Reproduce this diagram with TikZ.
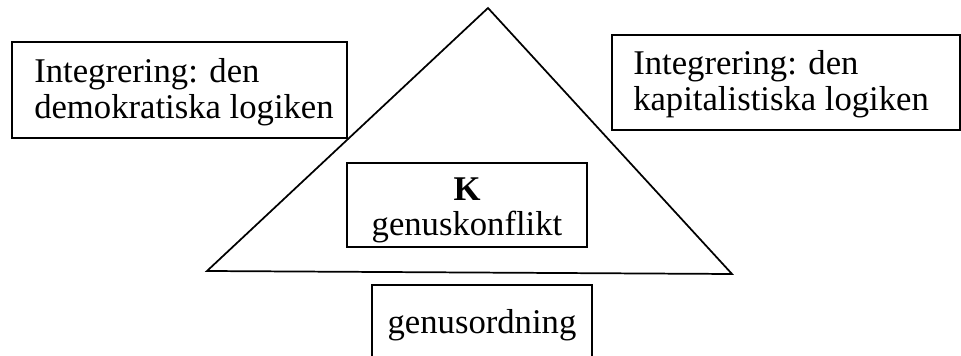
\documentclass[tikz,border=0pt]{standalone}
\usepackage{fontspec}
\setmainfont{Liberation Serif}
\begin{document}
\begin{tikzpicture}[x=0.75pt, y=-0.75pt,
  box/.style={draw=black, line width=1.5pt, fill=white, inner sep=0pt},
  lbl/.style={inner sep=0pt, font=\fontsize{26}{27}\selectfont},
  tri/.style={draw=black, line width=1.3pt}]
  \useasboundingbox (0,0) rectangle (961,356);
  \path[clip] (0,0) rectangle (961,356);

  % triangle
  \coordinate (apex) at (488,8);
  \coordinate (bl) at (207,271);
  \coordinate (br) at (732,274);
  \draw[tri, line join=miter] (apex) -- (br) -- (bl) -- cycle;

  % side boxes
  \node[box, minimum width=251.25pt, minimum height=72pt] (left) at (179.5,90) {};
  \node[box, minimum width=261pt, minimum height=71.25pt] (right) at (786,82.5) {};
  \node[lbl, anchor=base west] (l1) at (34,83) {Integrering: den};
  \node[lbl, anchor=base west] (l2) at (34,119) {demokratiska logiken};
  \node[lbl, anchor=base west] (r1) at (633,75) {Integrering: den};
  \node[lbl, anchor=base west] (r2) at (633,111) {kapitalistiska logiken};

  % centre box
  \node[box, minimum width=180pt, minimum height=63pt] (k) at (467,205) {};
  \node[lbl, anchor=base, font=\fontsize{26}{27}\selectfont\bfseries] (k1) at (467,201) {K};
  \node[lbl, anchor=base] (k2) at (467,236) {genuskonflikt};

  % bottom box
  \node[box, minimum width=165pt, minimum height=63.75pt] (g) at (482,327.5) {};
  \node[lbl, anchor=base] (g1) at (482,334) {genusordning};
\end{tikzpicture}
\end{document}
